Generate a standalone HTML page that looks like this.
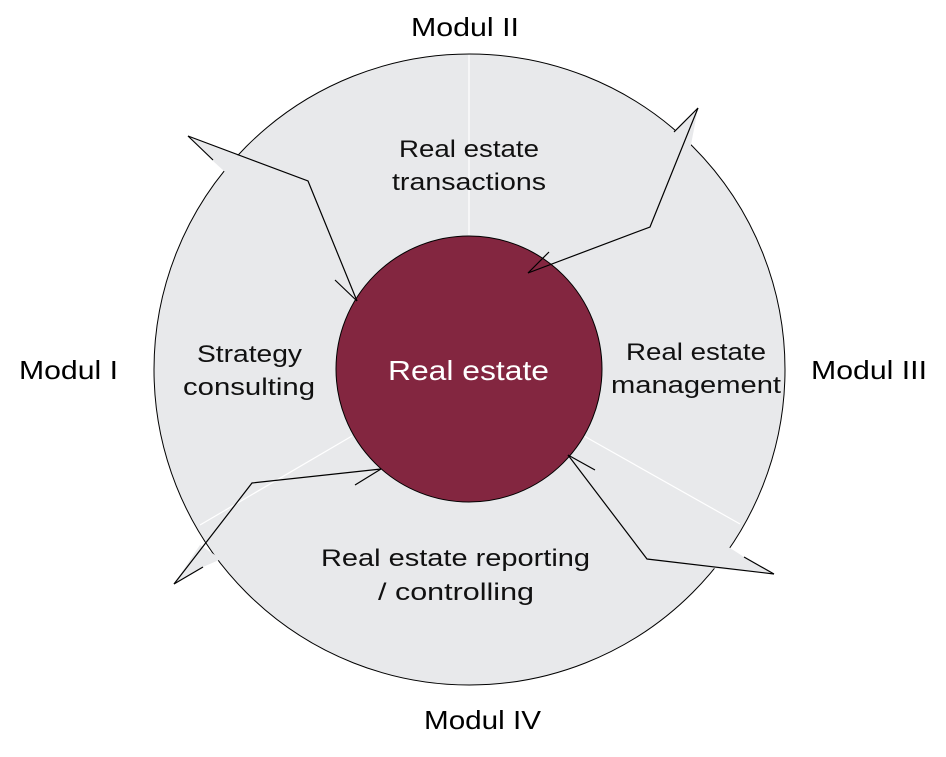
<!DOCTYPE html>
<html><head><meta charset="utf-8"><style>
html,body{margin:0;padding:0;background:#fff;}
svg{display:block;}
text{font-family:"Liberation Sans",sans-serif;}
</style></head><body>
<svg width="946" height="757" viewBox="0 0 946 757" xmlns="http://www.w3.org/2000/svg">
<ellipse cx="469.5" cy="369.5" rx="315.5" ry="315.5" fill="#e8e9eb" stroke="#000" stroke-width="1"/>
<!-- white dividers -->
<g stroke="#fff" stroke-width="1.2">
<line x1="469" y1="55" x2="469" y2="236"/>
<line x1="584" y1="436" x2="740" y2="524"/>
<line x1="352" y1="436" x2="200" y2="525"/>
</g>
<!-- arrow fills outside circle -->
<g fill="#e8e9eb" stroke="none">
<polygon points="188,136 250,160 232,178 224,171 213,161"/>
<polygon points="698,108 690,150 668,138 674,132"/>
<polygon points="774,574 700,567 720,540 727,546 744,557"/>
<polygon points="174,584 200,545 230,565 219,560 203,567"/>
</g>
<ellipse cx="469" cy="369" rx="133" ry="133" fill="#832640" stroke="#000" stroke-width="1"/>
<g fill="none" stroke="#000" stroke-width="1.2">
<polyline points="188,136 308,181 357,301"/>
<line x1="335" y1="280" x2="357" y2="301"/>
<line x1="188" y1="136" x2="213" y2="160"/>
<polyline points="698,108 650,227 528,273"/>
<line x1="528" y1="273" x2="549" y2="252"/>
<line x1="698" y1="108" x2="674" y2="132"/>
<polyline points="774,574 647,559 568,455"/>
<line x1="568" y1="455" x2="595" y2="470"/>
<line x1="774" y1="574" x2="744" y2="557"/>
<polyline points="174,584 252,483 381,469"/>
<line x1="355" y1="485" x2="381" y2="469"/>
<line x1="174" y1="584" x2="203" y2="567"/>
</g>
<g font-size="26" fill="#000">
<text x="411" y="36" textLength="108" lengthAdjust="spacingAndGlyphs">Modul II</text>
<text x="19" y="379" textLength="99" lengthAdjust="spacingAndGlyphs">Modul I</text>
<text x="811" y="379" textLength="116" lengthAdjust="spacingAndGlyphs">Modul III</text>
<text x="424" y="729" textLength="117" lengthAdjust="spacingAndGlyphs">Modul IV</text>
</g>
<g font-size="24" fill="#111">
<text x="399" y="157" textLength="140" lengthAdjust="spacingAndGlyphs">Real estate</text>
<text x="392" y="190" textLength="154" lengthAdjust="spacingAndGlyphs">transactions</text>
<text x="197" y="362" textLength="105" lengthAdjust="spacingAndGlyphs">Strategy</text>
<text x="183" y="395" textLength="132" lengthAdjust="spacingAndGlyphs">consulting</text>
<text x="626" y="360" textLength="140" lengthAdjust="spacingAndGlyphs">Real estate</text>
<text x="611" y="393" textLength="170" lengthAdjust="spacingAndGlyphs">management</text>
<text x="321" y="566" textLength="269" lengthAdjust="spacingAndGlyphs">Real estate reporting</text>
<text x="378" y="600" textLength="156" lengthAdjust="spacingAndGlyphs">/ controlling</text>
</g>
<text x="388" y="380" font-size="28" fill="#fff" textLength="161" lengthAdjust="spacingAndGlyphs">Real estate</text>
</svg>
</body></html>
